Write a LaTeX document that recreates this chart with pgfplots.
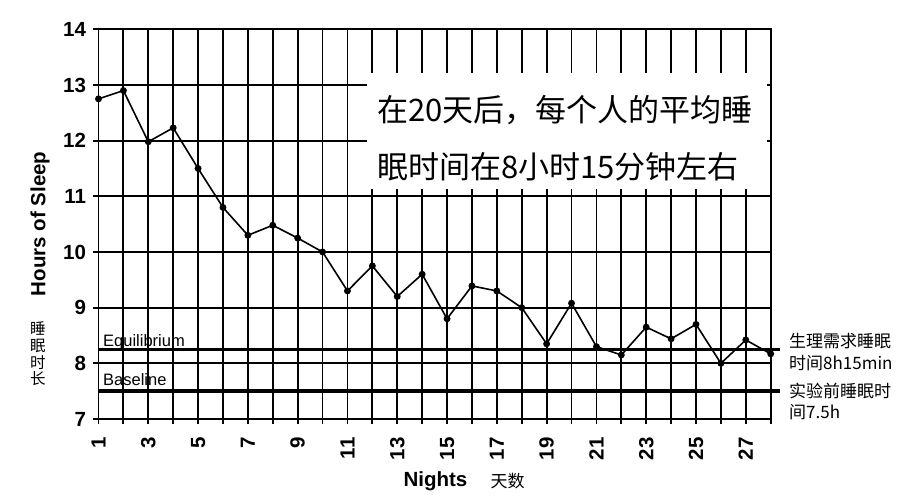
\documentclass[border=0pt]{standalone}
\usepackage{pgfplots}
\pgfplotsset{compat=1.18}
\usepackage{fontspec}
\setmainfont{Liberation Sans}
\newfontfamily\cjk{Noto Sans CJK SC}
\begin{document}
\begin{tikzpicture}
\useasboundingbox (-98.5pt,-83pt) rectangle (815.5pt,419pt);
\begin{axis}[
  scale only axis, width=672.2pt, height=389.7pt,
  xmin=1, xmax=28, ymin=7, ymax=14,
  xtick={1,3,...,27}, minor xtick={2,4,...,28},
  ytick={7,...,14},
  grid=both,
  major grid style={black, line width=1.8pt},
  minor grid style={black, line width=1.8pt},
  axis line style={black, line width=1.8pt},
  every tick/.style={black, line width=1.8pt},
  major tick length=5pt, minor tick length=5pt,
  tick align=outside, tick pos=left,
  /pgf/number format/assume math mode=true,
  xticklabel style={rotate=90, anchor=east, font=\fontsize{20.5}{20.5}\selectfont\bfseries},
  yticklabel style={font=\fontsize{20.5}{20.5}\selectfont\bfseries},
  xticklabel shift=10pt, yticklabel shift=4pt,
  clip=false,
]
\fill[white] (axis cs:11.78,11.14) rectangle (axis cs:27.86,13.215);
\addplot[black, line width=3.4pt] coordinates {(1,8.25) (28.37,8.25)};
\addplot[black, line width=3.4pt] coordinates {(1,7.5) (28.37,7.5)};
\addplot[black, line width=1.6pt, mark=*, mark size=2.6pt, mark options={solid}] coordinates {
(1,12.75) (2,12.9) (3,11.98) (4,12.23) (5,11.5) (6,10.8) (7,10.3) (8,10.48) (9,10.25) (10,10.0)
(11,9.3) (12,9.75) (13,9.2) (14,9.6) (15,8.8) (16,9.39) (17,9.3) (18,9.0) (19,8.35) (20,9.08)
(21,8.3) (22,8.15) (23,8.65) (24,8.44) (25,8.7) (26,8.0) (27,8.42) (28,8.17)};
\end{axis}
% box text
\node[anchor=west, inner sep=0pt, font=\cjk\fontsize{31}{31}\selectfont] at (278.5pt,309pt) {在20天后，每个人的平均睡};
\node[anchor=west, inner sep=0pt, font=\cjk\fontsize{31}{31}\selectfont] at (278.5pt,252pt) {眠时间在8小时15分钟左右};
% line labels
\node[anchor=base west, inner sep=0pt, font=\fontsize{16.5}{16.5}\selectfont] at (4.5pt,72pt) {Equilibrium};
\node[anchor=base west, inner sep=0pt, font=\fontsize{16.5}{16.5}\selectfont] at (4.5pt,33pt) {Baseline};
% right labels
\node[anchor=west, inner sep=0pt, font=\cjk\fontsize{17}{17}\selectfont] at (690.5pt,78pt) {生理需求睡眠};
\node[anchor=west, inner sep=0pt, font=\cjk\fontsize{17}{17}\selectfont] at (690.5pt,56.3pt) {时间8h15min};
\node[anchor=west, inner sep=0pt, font=\cjk\fontsize{17}{17}\selectfont] at (690.5pt,28.3pt) {实验前睡眠时};
\node[anchor=west, inner sep=0pt, font=\cjk\fontsize{17}{17}\selectfont] at (690.5pt,7pt) {间7.5h};
% axis labels
\node[rotate=90, inner sep=0pt, font=\fontsize{20.5}{20.5}\selectfont\bfseries] at (-58.5pt,195pt) {Hours of Sleep};
\node[inner sep=0pt, align=center, font=\cjk\fontsize{15.5}{16.7}\selectfont] at (-60.5pt,65pt) {睡\\眠\\时\\长};
\node[inner sep=0pt, font=\fontsize{20.5}{20.5}\selectfont\bfseries] at (337pt,-62pt) {Nights};
\node[inner sep=0pt, font=\cjk\fontsize{17}{17}\selectfont] at (409pt,-62pt) {天数};
\end{tikzpicture}
\end{document}
